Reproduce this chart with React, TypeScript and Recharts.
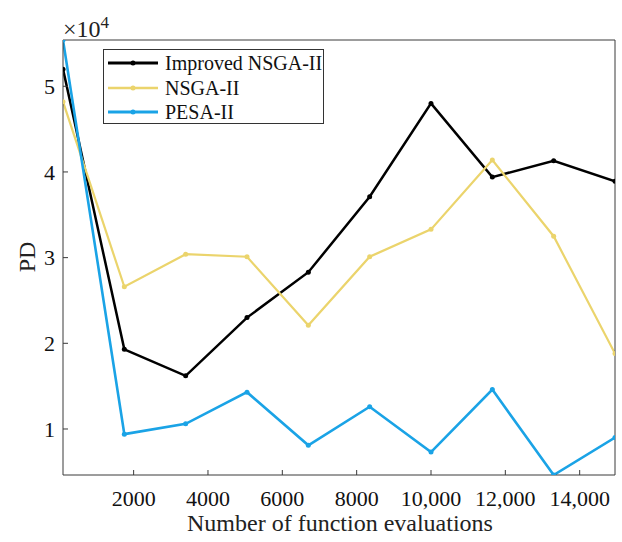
import React from 'react';
import { LineChart, Line, XAxis, YAxis, Label } from 'recharts';

const evaluations = [100, 1750, 3400, 5050, 6700, 8350, 10000, 11650, 13300, 14950];
const improvedNsga2 = [52000, 19300, 16200, 23000, 28300, 37100, 48000, 39400, 41300, 38900];
const nsga2 = [48200, 26600, 30400, 30100, 22100, 30100, 33300, 41400, 32500, 18800];
const pesa2 = [55400, 9400, 10600, 14300, 8100, 12600, 7300, 14600, 4630, 9000];

const xTicks = [2000, 4000, 6000, 8000, 10000, 12000, 14000];
const yTicks = [10000, 20000, 30000, 40000, 50000];

const series = [
    { key: 'improved', name: 'Improved NSGA-II', color: '#000000', width: 2.5 },
    { key: 'nsga', name: 'NSGA-II', color: '#EBD46C', width: 2.2 },
    { key: 'pesa', name: 'PESA-II', color: '#1AA3E6', width: 2.6 },
];

const data = evaluations.map((x, i) => ({
    x,
    improved: improvedNsga2[i],
    nsga: nsga2[i],
    pesa: pesa2[i],
}));

const X_DOMAIN: [number, number] = [100, 14950];
const Y_DOMAIN: [number, number] = [4630, 55400];
const FONT = "'Times New Roman', 'Liberation Serif', 'DejaVu Serif', serif";
const AXIS = '#3a3a3a';

const fmtX = (v: number) => (v >= 10000 ? v.toLocaleString('en-US') : String(v));

const ChartLegend = () => (
    <div
        style={{
            position: 'absolute',
            left: 103,
            top: 49,
            width: 221,
            height: 75,
            border: '1px solid #333',
            background: '#fff',
            fontFamily: FONT,
            fontSize: 20,
            boxSizing: 'border-box',
            whiteSpace: 'nowrap',
        }}
    >
        {series.map((s, i) => (
            <div key={s.key} style={{ position: 'absolute', left: 3, top: 1 + i * 24.5, height: 24, display: 'flex', alignItems: 'center' }}>
                <svg width={52} height={10}>
                    <line x1={1} y1={5} x2={51} y2={5} stroke={s.color} strokeWidth={s.width + 0.5} />
                    <circle cx={26} cy={5} r={2.5} fill={s.color} />
                </svg>
                <span style={{ marginLeft: 6, color: '#111', lineHeight: '24px' }}>{s.name}</span>
            </div>
        ))}
    </div>
);

const App: React.FC = () => {
    return (
        <div style={{ position: 'absolute', left: 0, top: 0, width: 622, height: 542, background: '#fff' }}>
            <LineChart width={622} height={542} data={data} margin={{ top: 0, right: 0, bottom: 0, left: 0 }}>
                <XAxis
                    xAxisId="b"
                    dataKey="x"
                    type="number"
                    domain={X_DOMAIN}
                    ticks={xTicks}
                    tickFormatter={fmtX}
                    allowDataOverflow
                    height={67}
                    stroke={AXIS}
                    tickSize={-5}
                    tickMargin={20}
                    tick={{ fontFamily: FONT, fontSize: 22, fill: '#111' }}
                >
                    <Label
                        content={() => (
                            <text x={340} y={531} textAnchor="middle" fontFamily={FONT} fontSize={24} fill="#222">
                                Number of function evaluations
                            </text>
                        )}
                    />
                </XAxis>
                <XAxis
                    xAxisId="t"
                    orientation="top"
                    dataKey="x"
                    type="number"
                    domain={X_DOMAIN}
                    ticks={xTicks}
                    allowDataOverflow
                    height={40}
                    stroke={AXIS}
                    tickSize={-5}
                    tick={false}
                >
                    <Label
                        content={() => (
                            <text x={63} y={37} fontFamily={FONT} fontSize={24} fill="#222">
                                ×10<tspan dy={-9} fontSize={17}>4</tspan>
                            </text>
                        )}
                    />
                </XAxis>
                <YAxis
                    yAxisId="l"
                    type="number"
                    domain={Y_DOMAIN}
                    ticks={yTicks}
                    tickFormatter={(v: number) => String(v / 10000)}
                    allowDataOverflow
                    width={63}
                    stroke={AXIS}
                    tickSize={-5}
                    tickMargin={13}
                    tick={{ fontFamily: FONT, fontSize: 22, fill: '#111' }}
                >
                    <Label
                        content={() => (
                            <text x={35} y={257} transform="rotate(-90 35 257)" textAnchor="middle" fontFamily={FONT} fontSize={24} fill="#222">
                                PD
                            </text>
                        )}
                    />
                </YAxis>
                <YAxis
                    yAxisId="r"
                    orientation="right"
                    type="number"
                    domain={Y_DOMAIN}
                    ticks={yTicks}
                    allowDataOverflow
                    width={7}
                    stroke={AXIS}
                    tickSize={-5}
                    tick={false}
                />
                {series.map((s) => (
                    <Line
                        key={s.key}
                        xAxisId="b"
                        yAxisId="l"
                        type="linear"
                        dataKey={s.key}
                        name={s.name}
                        stroke={s.color}
                        strokeWidth={s.width}
                        dot={{ r: 2.5, fill: s.color, stroke: s.color, strokeWidth: 0 }}
                        activeDot={false}
                        isAnimationActive={false}
                    />
                ))}
            </LineChart>
            <ChartLegend />
        </div>
    );
};

export default App;
